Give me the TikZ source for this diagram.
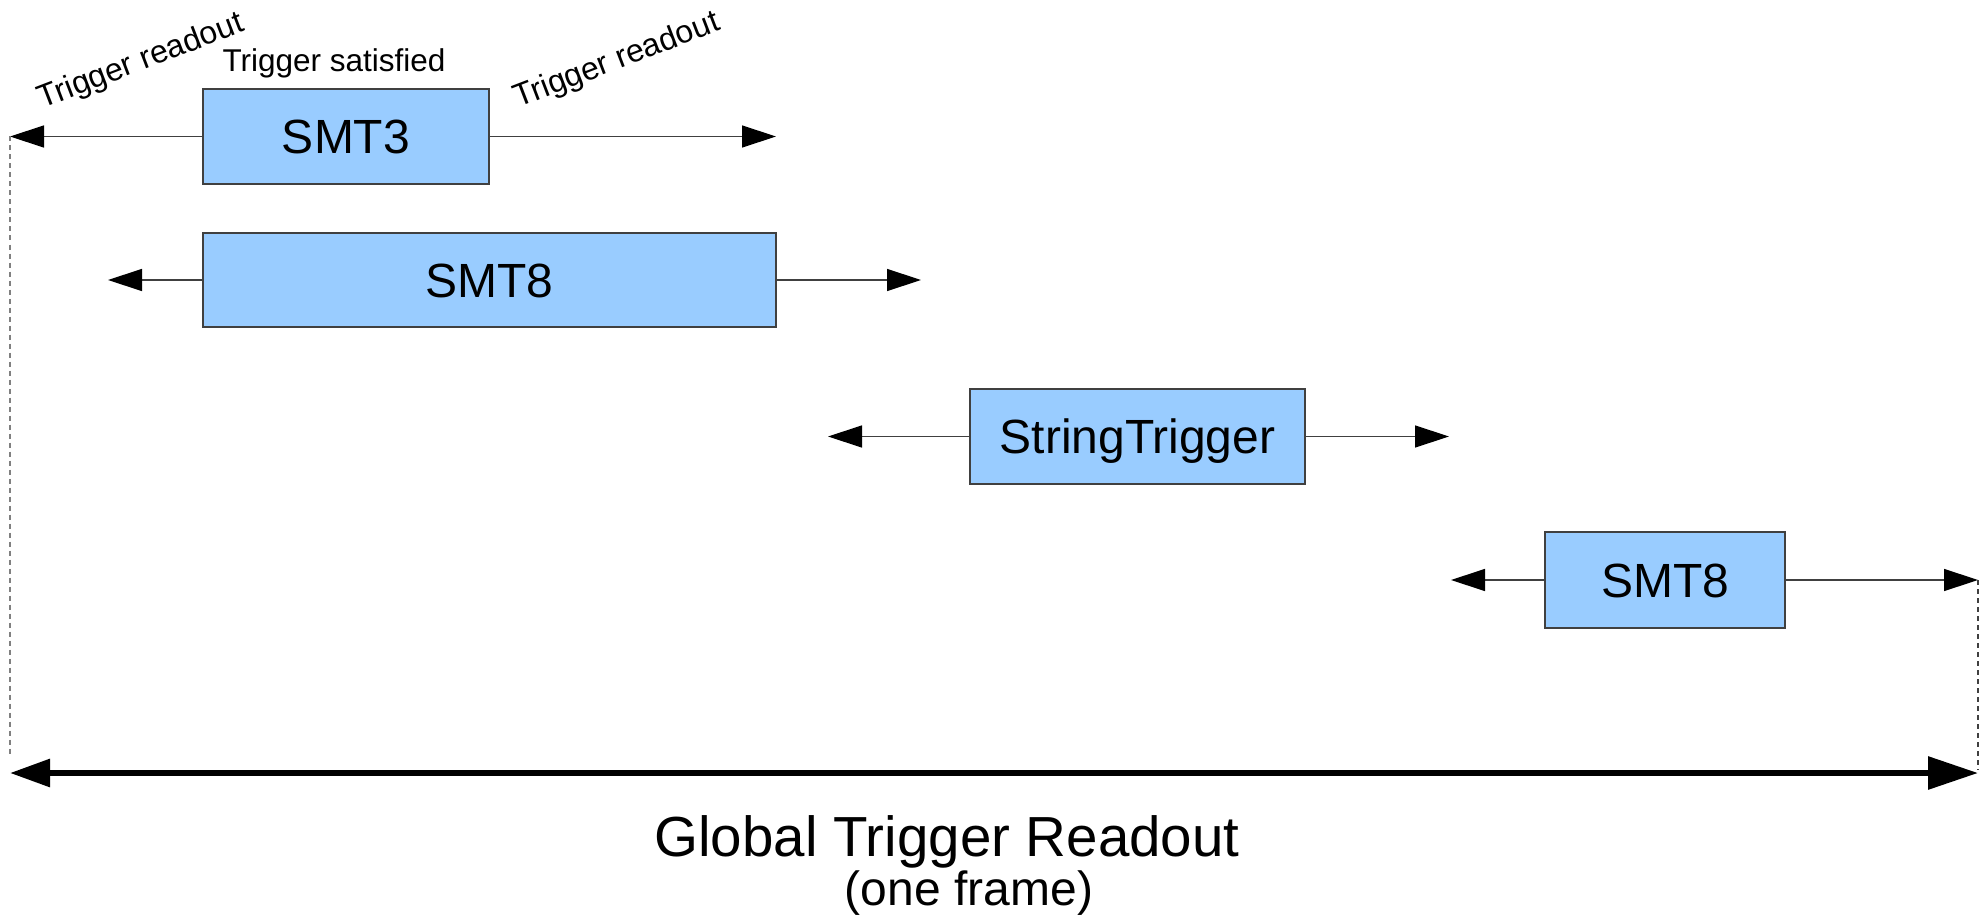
\documentclass[tikz,border=0pt]{standalone}
\usepackage{fontspec}
\setmainfont{Liberation Sans}
\usetikzlibrary{arrows.meta}
\definecolor{boxblue}{HTML}{99CCFF}
\definecolor{linegray}{HTML}{404040}
\tikzset{
  tbox/.style={draw=linegray, line width=1.2pt, fill=boxblue, inner sep=0pt,
    text height=34pt, text depth=0pt, font=\fontsize{48}{56}\selectfont},
  tarr/.style={draw=linegray, line width=1.3pt, -{Triangle[length=34pt,width=22pt,color=black]}},
  bigarr/.style={line width=6pt, {Triangle[length=40pt,width=27pt]}-{Triangle[length=50pt,width=32pt]}},
  guide/.style={draw=gray, line width=1.2pt, dash pattern=on 5pt off 4pt},
  smalltxt/.style={font=\fontsize{32}{38}\selectfont, inner sep=0pt}
}
\begin{document}
\begin{tikzpicture}[x=1pt,y=-1pt]
\useasboundingbox (0,0) rectangle (1986,920);
% boxes
\node[tbox, minimum width=286pt, minimum height=95pt] (smtA) at (346,136.5) {SMT3};
\node[tbox, minimum width=573pt, minimum height=94pt] (smtB) at (489.5,280) {SMT8};
\node[tbox, minimum width=335pt, minimum height=95pt] (str) at (1137.5,436.5) {StringTrigger};
\node[tbox, minimum width=240pt, minimum height=96pt] (smtC) at (1665,580) {SMT8};
% arrow tips
\coordinate (aL) at (10,136.5);
\coordinate (aR) at (776,136.5);
\coordinate (bL) at (108,280);
\coordinate (bR) at (921,280);
\coordinate (cL) at (828,436.5);
\coordinate (cR) at (1449,436.5);
\coordinate (dL) at (1451,580);
\coordinate (dR) at (1978,580);
\coordinate (gL) at (10,773);
\coordinate (gR) at (1978,773);
\coordinate (gLt) at (10,757);
\coordinate (gRt) at (1978,770);
% thin arrows
\draw[tarr] (smtA.west) -- (aL);
\draw[tarr] (smtA.east) -- (aR);
\draw[tarr] (smtB.west) -- (bL);
\draw[tarr] (smtB.east) -- (bR);
\draw[tarr] (str.west) -- (cL);
\draw[tarr] (str.east) -- (cR);
\draw[tarr] (smtC.west) -- (dL);
\draw[tarr] (smtC.east) -- (dR);
% guides
\draw[guide] (aL) -- (gLt);
\draw[guide, draw=black!75] (dR) -- (gRt);
% big arrow
\draw[bigarr] (gL) -- (gR);
% labels
\node[smalltxt, rotate=21] (lr1) at (141,62) {Trigger readout};
\node[smalltxt, rotate=21] (lr2) at (617,61) {Trigger readout};
\node[smalltxt, font=\fontsize{31.5}{38}\selectfont, anchor=base] (ts) at (334,72) {Trigger satisfied};
\node[font=\fontsize{56.5}{64}\selectfont, inner sep=0pt, anchor=base] (glob) at (947,856) {Global Trigger Readout};
\node[font=\fontsize{48}{56}\selectfont, inner sep=0pt, anchor=base] (frame) at (969,905) {(one frame)};
\end{tikzpicture}
\end{document}
